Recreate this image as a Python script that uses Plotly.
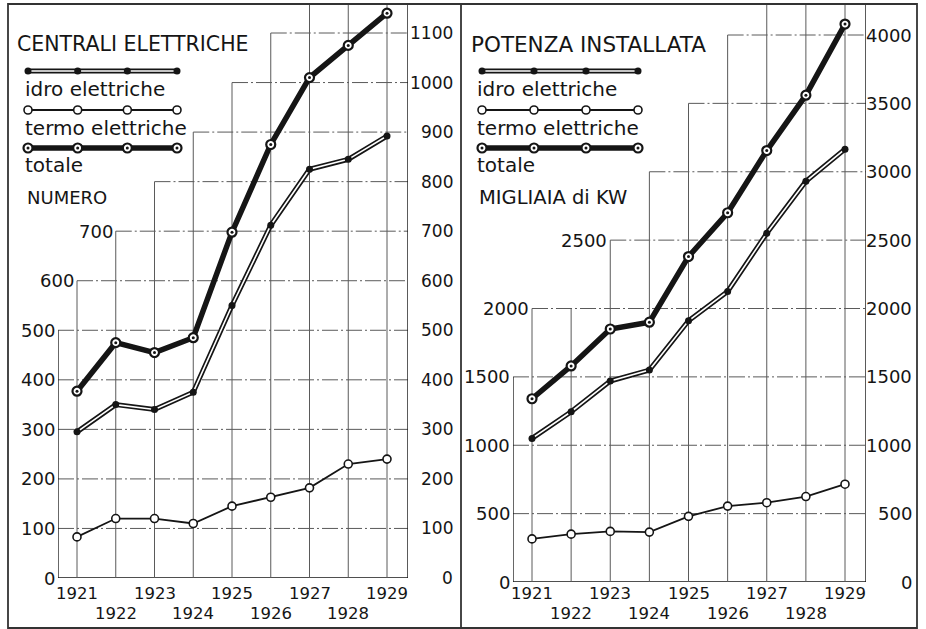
import plotly.graph_objects as go

W, H = 926, 629
FONT = "DejaVu Sans"
INK = "#151515"
GRID = "#5a5a5a"

years = [1921, 1922, 1923, 1924, 1925, 1926, 1927, 1928, 1929]

# Centrali elettriche: numero
num_idro = [295, 350, 340, 375, 550, 712, 825, 845, 892]
num_termo = [83, 120, 120, 110, 145, 163, 182, 230, 240]
num_totale = [377, 475, 455, 485, 698, 875, 1010, 1075, 1140]

# Potenza installata: migliaia di kW
kw_idro = [1050, 1245, 1470, 1550, 1910, 2125, 2550, 2930, 3165]
kw_termo = [315, 350, 370, 365, 480, 555, 580, 625, 715]
kw_totale = [1340, 1580, 1850, 1900, 2380, 2700, 3155, 3560, 4080]

num_ticks = [0, 100, 200, 300, 400, 500, 600, 700, 800, 900, 1000, 1100]
num_left_ticks = [0, 100, 200, 300, 400, 500, 600, 700]
kw_ticks = [0, 500, 1000, 1500, 2000, 2500, 3000, 3500, 4000]
kw_left_ticks = [0, 500, 1000, 1500, 2000, 2500]

# stepped grid: year from which each upper gridline starts
num_steps = {600: 1921, 700: 1922, 800: 1923, 900: 1924, 1000: 1925, 1100: 1926}
kw_steps = {2000: 1921, 2500: 1923, 3000: 1924, 3500: 1925, 4000: 1926}

titles = [("CENTRALI ELETTRICHE", "NUMERO"), ("POTENZA INSTALLATA", "MIGLIAIA di KW")]
series_names = ["idro elettriche", "termo elettriche", "totale"]


def fx(p):
    return p / W


def fy(p):
    return 1 - p / H


# pixel geometry of each panel
panels = [
    dict(xa="x", ya="y", xl=58, xr=408, x0=77, x1=387, yz=578, yref=33, vref=1100,
         ticks=num_ticks, left_ticks=num_left_ticks, steps=num_steps,
         data=(num_idro, num_termo, num_totale), right_lab=455, fs_l=18, fs_r=17,
         title_x=15, text_x=25, leg=(28, 177), titles=titles[0], tfs=(20.5, 18)),
    dict(xa="x2", ya="y2", xl=513, xr=866, x0=532, x1=845, yz=582, yref=35, vref=4000,
         ticks=kw_ticks, left_ticks=kw_left_ticks, steps=kw_steps,
         data=(kw_idro, kw_termo, kw_totale), right_lab=914, fs_l=18, fs_r=18,
         title_x=469, text_x=477, leg=(482, 638), titles=titles[1], tfs=(21.5, 19.5)),
]
YTOP = 5

fig = go.Figure()
shapes = []
annotations = []
layout_axes = {}

for i, p in enumerate(panels):
    ppy = (p["x1"] - p["x0"]) / (years[-1] - years[0])
    xmin = years[0] - (p["x0"] - p["xl"]) / ppy
    xmax = years[-1] + (p["xr"] - p["x1"]) / ppy
    ppv = (p["yz"] - p["yref"]) / p["vref"]
    ymax = (p["yz"] - YTOP) / ppv
    sx = "" if i == 0 else str(i + 1)
    layout_axes["xaxis" + sx] = dict(domain=[fx(p["xl"]), fx(p["xr"])], range=[xmin, xmax],
                                     visible=False, anchor=p["ya"], fixedrange=True)
    layout_axes["yaxis" + sx] = dict(domain=[fy(p["yz"]), fy(YTOP)], range=[0, ymax],
                                     visible=False, anchor=p["xa"], fixedrange=True)
    steps = p["steps"]
    last_step = max(steps.values())

    # horizontal gridlines (stepped)
    for v in p["ticks"]:
        x_start = steps.get(v, xmin)
        shapes.append(dict(type="line", xref=p["xa"], yref=p["ya"], x0=x_start, x1=xmax,
                           y0=v, y1=v, layer="below",
                           line=dict(color=INK if v == 0 else GRID, width=1.3 if v == 0 else 1,
                                     dash="solid" if v == 0 else "16px,3px,2px,3px")))
    # vertical gridlines: each reaches the highest gridline crossing it
    base_top = max(v for v in p["ticks"] if v not in steps)
    shapes.append(dict(type="line", xref=p["xa"], yref=p["ya"], x0=xmin, x1=xmin,
                       y0=0, y1=base_top, layer="below", line=dict(color=INK, width=1.3)))
    for yr in years:
        if yr > last_step:
            top = ymax
        else:
            top = max(v for v in p["ticks"] if steps.get(v, xmin) <= yr)
        shapes.append(dict(type="line", xref=p["xa"], yref=p["ya"], x0=yr, x1=yr,
                           y0=0, y1=top, layer="below", line=dict(color=GRID, width=1)))
    shapes.append(dict(type="line", xref=p["xa"], yref=p["ya"], x0=xmax, x1=xmax,
                       y0=0, y1=ymax, layer="below", line=dict(color=INK, width=1.4)))

    # tick labels, left (stepped) and right
    for v in p["left_ticks"]:
        annotations.append(dict(xref=p["xa"], yref=p["ya"], x=steps.get(v, xmin), y=v,
                                xanchor="right", yanchor="middle", xshift=-1, showarrow=False,
                                text=str(v), font=dict(family=FONT, size=p["fs_l"], color=INK)))
    for v in p["ticks"]:
        annotations.append(dict(xref="paper", yref=p["ya"], x=fx(p["right_lab"]), y=v,
                                xanchor="right", yanchor="middle", showarrow=False,
                                text=str(v), font=dict(family=FONT, size=p["fs_r"], color=INK)))
    # year labels on two staggered rows
    for yr in years:
        row_y = 593 if yr % 2 else 613
        annotations.append(dict(xref=p["xa"], yref="paper", x=yr, y=fy(row_y),
                                xanchor="center", yanchor="middle", showarrow=False,
                                text=str(yr), font=dict(family=FONT, size=16.5, color=INK)))

    idro, termo, totale = p["data"]
    # idro elettriche: double line with black dots
    fig.add_trace(go.Scatter(x=years, y=idro, xaxis=p["xa"], yaxis=p["ya"], mode="lines",
                             line=dict(color=INK, width=5), hoverinfo="skip"))
    fig.add_trace(go.Scatter(x=years, y=idro, xaxis=p["xa"], yaxis=p["ya"], mode="lines+markers",
                             line=dict(color="white", width=1.6),
                             marker=dict(color=INK, size=7), name=series_names[0]))
    # termo elettriche: thin line with open circles
    fig.add_trace(go.Scatter(x=years, y=termo, xaxis=p["xa"], yaxis=p["ya"], mode="lines+markers",
                             line=dict(color=INK, width=1.8),
                             marker=dict(color="white", size=8, line=dict(color=INK, width=1.6)),
                             name=series_names[1]))
    # totale: heavy line with dotted rings
    fig.add_trace(go.Scatter(x=years, y=totale, xaxis=p["xa"], yaxis=p["ya"], mode="lines+markers",
                             line=dict(color=INK, width=5.5),
                             marker=dict(color="white", size=9, line=dict(color=INK, width=2.2)),
                             name=series_names[2]))
    fig.add_trace(go.Scatter(x=years, y=totale, xaxis=p["xa"], yaxis=p["ya"], mode="markers",
                             marker=dict(color=INK, size=3), hoverinfo="skip"))

    # headings
    annotations.append(dict(xref="paper", yref="paper", x=fx(p["title_x"]), y=fy(44),
                            xanchor="left", yanchor="middle", showarrow=False,
                            text=p["titles"][0], font=dict(family=FONT, size=p["tfs"][0], color=INK)))
    annotations.append(dict(xref="paper", yref="paper", x=fx(p["text_x"]), y=fy(197),
                            xanchor="left", yanchor="middle", showarrow=False,
                            text=p["titles"][1], font=dict(family=FONT, size=p["tfs"][1], color=INK)))

    # key samples with their names below
    lx0, lx1 = p["leg"]
    lxs = [lx0 + (lx1 - lx0) * k / 3 for k in range(4)]
    for k, (ly, ty) in enumerate([(71, 89), (110, 128), (148, 165)]):
        annotations.append(dict(xref="paper", yref="paper", x=fx(p["text_x"] - 2), y=fy(ty),
                                xanchor="left", yanchor="middle", showarrow=False,
                                text=series_names[k], font=dict(family=FONT, size=20, color=INK)))
        ys = [ly] * 4
        if k == 0:
            fig.add_trace(go.Scatter(x=lxs, y=ys, xaxis="x3", yaxis="y3", mode="lines",
                                     line=dict(color=INK, width=5), hoverinfo="skip"))
            fig.add_trace(go.Scatter(x=lxs, y=ys, xaxis="x3", yaxis="y3", mode="lines+markers",
                                     line=dict(color="white", width=1.6),
                                     marker=dict(color=INK, size=7), hoverinfo="skip"))
        elif k == 1:
            fig.add_trace(go.Scatter(x=lxs, y=ys, xaxis="x3", yaxis="y3", mode="lines+markers",
                                     line=dict(color=INK, width=1.8),
                                     marker=dict(color="white", size=8, line=dict(color=INK, width=1.6)),
                                     hoverinfo="skip"))
        else:
            fig.add_trace(go.Scatter(x=lxs, y=ys, xaxis="x3", yaxis="y3", mode="lines+markers",
                                     line=dict(color=INK, width=5.5),
                                     marker=dict(color="white", size=9, line=dict(color=INK, width=2.2)),
                                     hoverinfo="skip"))
            fig.add_trace(go.Scatter(x=lxs, y=ys, xaxis="x3", yaxis="y3", mode="markers",
                                     marker=dict(color=INK, size=3), hoverinfo="skip"))

# outer frame and divider
shapes.append(dict(type="rect", xref="paper", yref="paper", x0=fx(8), x1=fx(917), y0=fy(628), y1=fy(4),
                   line=dict(color="#333333", width=1.8), layer="below"))
shapes.append(dict(type="line", xref="paper", yref="paper", x0=fx(461), x1=fx(461), y0=fy(628), y1=fy(4),
                   line=dict(color="#333333", width=1.8), layer="below"))

fig.update_layout(
    width=W, height=H,
    margin=dict(l=0, r=0, t=0, b=0),
    paper_bgcolor="white", plot_bgcolor="rgba(0,0,0,0)",
    showlegend=False,
    shapes=shapes, annotations=annotations,
    xaxis3=dict(domain=[0, 1], range=[0, W], visible=False, anchor="y3", fixedrange=True),
    yaxis3=dict(domain=[0, 1], range=[H, 0], visible=False, anchor="x3", fixedrange=True),
    **layout_axes,
)

fig.write_html("out.html")
